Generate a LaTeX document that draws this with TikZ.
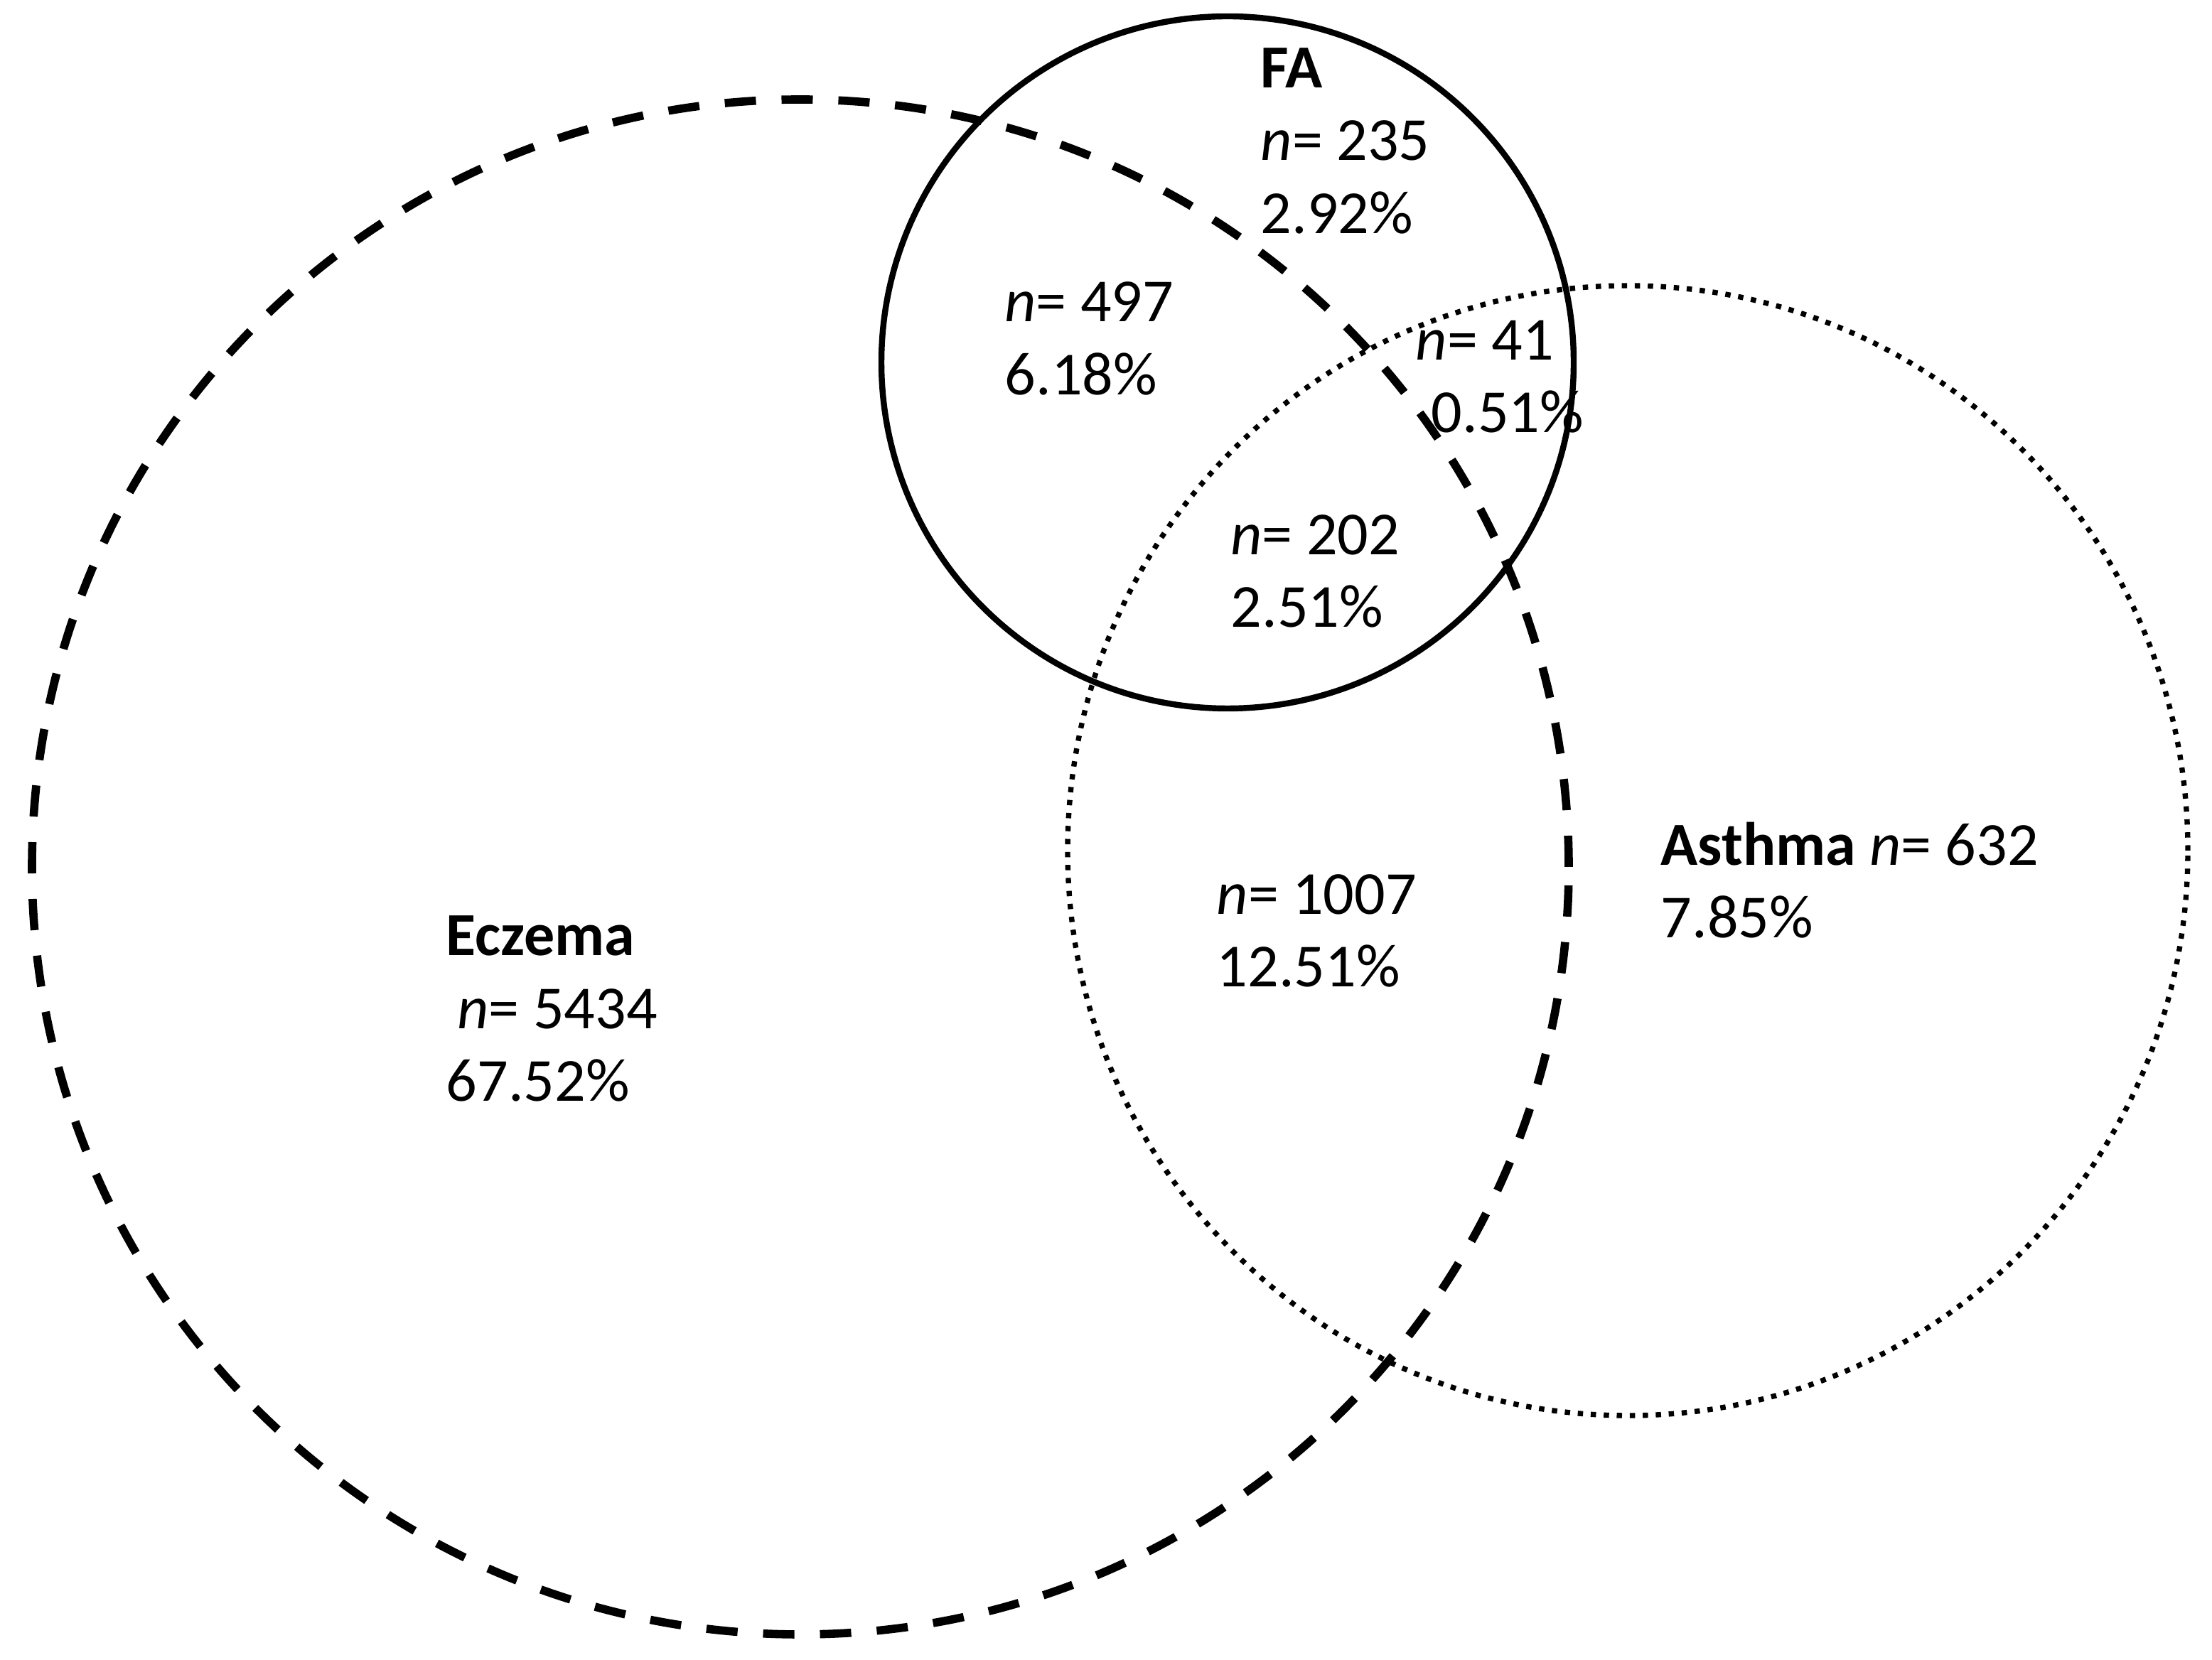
\documentclass[tikz,border=0pt]{standalone}
\usepackage{fontspec}
\setmainfont{Carlito}
\usetikzlibrary{positioning}

\begin{document}
\begin{tikzpicture}
    \tikzset{Count/.style={%
        anchor=base west,%
        align=left,%
        inner sep=0pt,%
        font=\fontsize{24.5}{29.3}\selectfont,%
    }}
    \tikzset{EczemaSet/.style={%
        line width=3.3pt,%
        dash pattern=on 0.44cm off 0.36cm,%
    }}
    \tikzset{FASet/.style={%
        line width=2.4pt,%
    }}
    \tikzset{AsthmaSet/.style={%
        line width=2.1pt,%
        dash pattern=on 0.075cm off 0.108cm,%
    }}

    \useasboundingbox (0,0) rectangle (31.12,23.35);

    \draw[EczemaSet] (11.26,11.15) ellipse [x radius=10.81, y radius=10.80];
    \draw[AsthmaSet] (22.90,11.38) ellipse [x radius=7.88, y radius=7.95];
    \draw[FASet] (17.27,18.25) circle [radius=4.87];

    % base anchor sits on the last line
    \node[Count] (fa) at (17.73,20.06) {\textbf{FA}\\\textit{n}= 235\\2.92\%};
    \node[Count] (ecfa) at (14.13,17.79) {\textit{n}= 497\\6.18\%};
    \node[Count] (fast) at (19.91,17.26) {\textit{n}= 41\\\hspace{0.22cm}0.51\%};
    \node[Count] (all) at (17.31,14.52) {\textit{n}= 202\\2.51\%};
    \node[Count] (ecst) at (17.11,9.46) {\textit{n}= 1007\\12.51\%};
    \node[Count] (st) at (23.36,10.15) {\textbf{Asthma} \textit{n}= 632\\7.85\%};
    \node[Count] (ec) at (6.27,7.85) {\textbf{Eczema}\\\hspace{0.16cm}\textit{n}= 5434\\67.52\%};
\end{tikzpicture}
\end{document}
